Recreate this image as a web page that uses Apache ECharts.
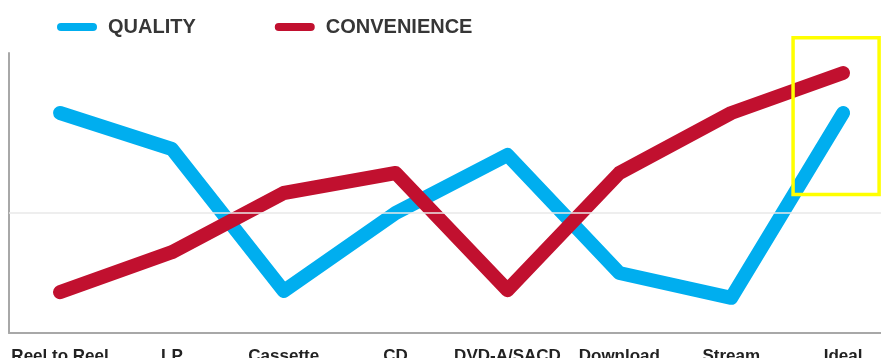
<!DOCTYPE html>
<html>
<head>
<meta charset="utf-8">
<title>Quality vs Convenience</title>
<script src="https://cdn.jsdelivr.net/npm/echarts@6/dist/echarts.min.js"></script>
<style>
  html, body { margin: 0; padding: 0; background: #fff; }
  #chart { width: 881px; height: 358px; }
</style>
</head>
<body>
<div id="chart"></div>
<script>
// Audio formats along the x axis
const formats = ['Reel to Reel', 'LP', 'Cassette', 'CD', 'DVD-A/SACD', 'Download', 'Stream', 'Ideal'];

// Relative scores (0 = low, 7 = high)
const quality     = [5.5, 4.6, 1.05, 3.0, 4.45, 1.5, 0.88, 5.5];
const convenience = [1.02, 2.02, 3.5, 4.0, 1.07, 4.0, 5.5, 6.5];

// Reference line through the middle of the scale
const midLine = 3;

// Highlight frame around the "Ideal" column, in data units
const highlightX = [6.553, 7.322];
const highlightY = [3.46, 7.38];

const seriesNames = ['QUALITY', 'CONVENIENCE'];
const seriesColors = ['#00aeef', '#c1102f'];

const toPairs = vals => vals.map((v, i) => [i, v]);

const chart = echarts.init(document.getElementById('chart'));

const lineSeries = (name, vals, color, z) => ({
  name: name,
  type: 'line',
  data: toPairs(vals),
  symbol: 'none',
  z: z,
  color: color,
  lineStyle: { width: 14, color: color, cap: 'round', join: 'round' },
  itemStyle: { color: color },
  animation: false
});

chart.setOption({
  animation: false,
  textStyle: { fontFamily: 'Liberation Sans, Arial, sans-serif' },
  grid: { left: 9, right: 0, top: 53, bottom: 25, containLabel: false, outerBoundsMode: 'none' },
  legend: {
    data: seriesNames,
    left: 57,
    top: 17,
    padding: 0,
    itemWidth: 40,
    itemHeight: 8,
    itemGap: 79,
    icon: 'path://M4 0H36A4 4 0 0 1 36 8H4A4 4 0 0 1 4 0Z',
    itemStyle: { borderWidth: 0 },
    textStyle: {
      fontSize: 20,
      fontWeight: 'bold',
      color: '#363636',
      padding: [0, 0, 0, 6],
      fontFamily: 'Liberation Sans, Arial, sans-serif'
    }
  },
  xAxis: {
    type: 'value',
    min: -0.456,
    max: 7.339,
    axisLine: { show: true, onZero: false, lineStyle: { color: '#a8a8a8', width: 2 } },
    axisTick: { show: false },
    splitLine: { show: false },
    axisLabel: {
      customValues: formats.map((_, i) => i),
      formatter: v => formats[Math.round(v)] || '',
      margin: 15,
      fontSize: 17,
      fontWeight: 'bold',
      color: '#222',
      fontFamily: 'Liberation Sans, Arial, sans-serif'
    }
  },
  yAxis: {
    type: 'value',
    min: 0,
    max: 7,
    axisLine: { show: true, onZero: false, lineStyle: { color: '#a8a8a8', width: 2 } },
    axisTick: { show: false },
    axisLabel: { show: false },
    splitLine: { show: false }
  },
  series: [
    {
      name: 'mid',
      type: 'line',
      data: [],
      z: 1,
      silent: true,
      markLine: {
        silent: true,
        symbol: 'none',
        label: { show: false },
        lineStyle: { color: '#e8e8e8', width: 1.5, type: 'solid' },
        data: [{ yAxis: midLine }]
      }
    },
    lineSeries(seriesNames[0], quality, seriesColors[0], 3),
    lineSeries(seriesNames[1], convenience, seriesColors[1], 4)
  ]
});

// Yellow frame placed through the grid's own coordinate conversion
const p0 = chart.convertToPixel({ gridIndex: 0 }, [highlightX[0], highlightY[1]]);
const p1 = chart.convertToPixel({ gridIndex: 0 }, [highlightX[1], highlightY[0]]);
chart.setOption({
  graphic: [{
    type: 'rect',
    shape: { x: p0[0], y: p0[1], width: p1[0] - p0[0], height: p1[1] - p0[1] },
    style: { fill: 'none', stroke: '#ffff00', lineWidth: 3.5 },
    z: 10,
    silent: true
  }]
});
</script>
</body>
</html>
